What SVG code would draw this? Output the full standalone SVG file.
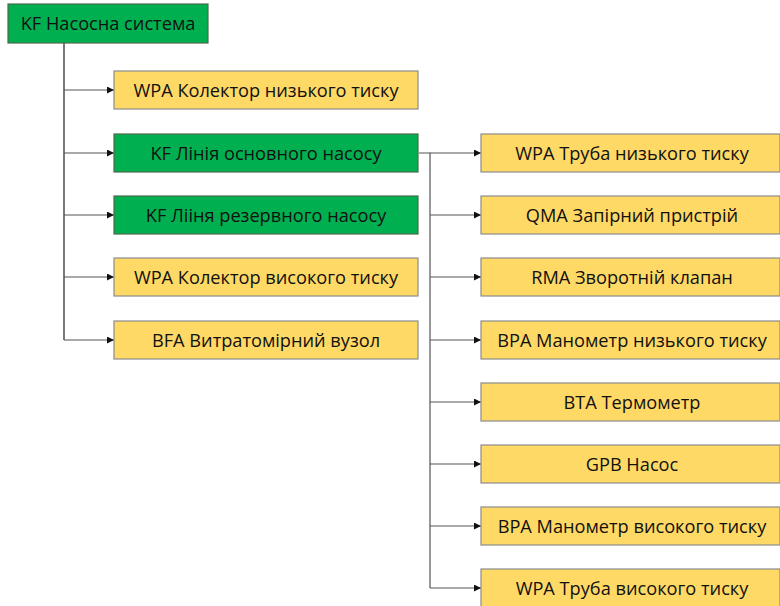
<svg xmlns="http://www.w3.org/2000/svg" width="780" height="606" viewBox="0 0 780 606">
  <style>
    .g { fill: #00B050; stroke: #4a6b4a; stroke-width: 1.2; }
    .y { fill: #FFD966; stroke: #8c8c8c; stroke-width: 1.2; }
    .t { font-family: "Open Sans", "Noto Sans", sans-serif; font-size: 18.2px; fill: #111; text-anchor: middle; dominant-baseline: central; }
    .c { fill: none; stroke: #555; stroke-width: 1.2; }
  </style>
  <defs>
    <marker id="ah" viewBox="0 0 10 10" refX="10" refY="5" markerWidth="7" markerHeight="7" markerUnits="userSpaceOnUse" orient="auto">
      <path d="M0,0 L10,5 L0,10 z" fill="#111"/>
    </marker>
  </defs>
  <rect width="780" height="606" fill="#fff"/>

  <g id="connectors">
    <path class="c" d="M64,43 V340" style="stroke:#222"/>
    <path class="c" d="M64,90 H114" marker-end="url(#ah)"/>
    <path class="c" d="M64,153 H114" marker-end="url(#ah)"/>
    <path class="c" d="M64,215 H114" marker-end="url(#ah)"/>
    <path class="c" d="M64,277 H114" marker-end="url(#ah)"/>
    <path class="c" d="M64,340 H114" marker-end="url(#ah)"/>
    <path class="c" d="M419,153 H430 V588"/>
    <path class="c" d="M430,153 H481" marker-end="url(#ah)"/>
    <path class="c" d="M430,215 H481" marker-end="url(#ah)"/>
    <path class="c" d="M430,277 H481" marker-end="url(#ah)"/>
    <path class="c" d="M430,340 H481" marker-end="url(#ah)"/>
    <path class="c" d="M430,402 H481" marker-end="url(#ah)"/>
    <path class="c" d="M430,464 H481" marker-end="url(#ah)"/>
    <path class="c" d="M430,526 H481" marker-end="url(#ah)"/>
    <path class="c" d="M430,588 H481" marker-end="url(#ah)"/>
  </g>

  <g id="root"><rect class="g" x="8" y="4" width="200" height="39"/><text class="t" x="108" y="23">KF Насосна система</text></g>

  <g id="n1"><rect class="y" x="114" y="71" width="304" height="38"/><text class="t" x="266" y="89.5">WPA Колектор низького тиску</text></g>
  <g id="n2"><rect class="g" x="114" y="134" width="304" height="38"/><text class="t" x="266" y="152.5">KF Лінія основного насосу</text></g>
  <g id="n3"><rect class="g" x="114" y="196" width="304" height="38"/><text class="t" x="266" y="214.5">KF Лііня резервного насосу</text></g>
  <g id="n4"><rect class="y" x="114" y="258" width="304" height="38"/><text class="t" x="266" y="276.5">WPA Колектор високого тиску</text></g>
  <g id="n5"><rect class="y" x="114" y="321" width="304" height="38"/><text class="t" x="266" y="339.5">BFA Витратомірний вузол</text></g>

  <g id="m1"><rect class="y" x="481" y="134" width="299" height="38"/><text class="t" x="632" y="152.5">WPA Труба низького тиску</text></g>
  <g id="m2"><rect class="y" x="481" y="196" width="299" height="38"/><text class="t" x="632" y="214.5">QMA Запірний пристрій</text></g>
  <g id="m3"><rect class="y" x="481" y="258" width="299" height="38"/><text class="t" x="632" y="276.5">RMA Зворотній клапан</text></g>
  <g id="m4"><rect class="y" x="481" y="321" width="299" height="38"/><text class="t" x="632" y="339.5">BPA Манометр низького тиску</text></g>
  <g id="m5"><rect class="y" x="481" y="383" width="299" height="38"/><text class="t" x="632" y="401.5">BTA Термометр</text></g>
  <g id="m6"><rect class="y" x="481" y="445" width="299" height="38"/><text class="t" x="632" y="463.5">GPB Насос</text></g>
  <g id="m7"><rect class="y" x="481" y="507" width="299" height="38"/><text class="t" x="632" y="525.5">BPA Манометр високого тиску</text></g>
  <g id="m8"><rect class="y" x="481" y="569" width="299" height="38"/><text class="t" x="632" y="587.5">WPA Труба високого тиску</text></g>
</svg>
